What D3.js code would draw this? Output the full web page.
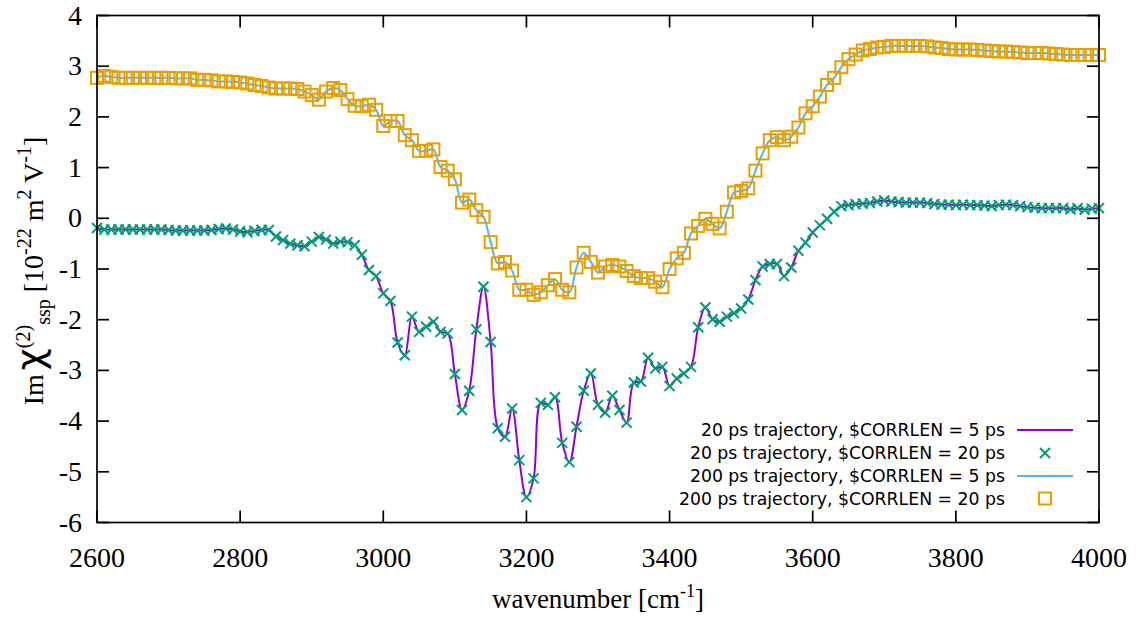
<!DOCTYPE html>
<html>
<head>
<meta charset="utf-8">
<script src="https://cdn.jsdelivr.net/npm/d3@7"></script>
<style>
  body { margin: 0; background: #fff; }
  svg { display: block; }
</style>
</head>
<body>
<svg></svg>
<script>
// wavenumber grid of the spectra, cm^-1
var wavenumbers = d3.range(2600, 4001, 10);

// 20 ps trajectory, $CORRLEN = 20 ps (green crosses)
var chi20 = [
  -0.19, -0.22, -0.22, -0.22, -0.22, -0.22, -0.22, -0.22, -0.22, -0.22,
  -0.23, -0.24, -0.24, -0.24, -0.24, -0.24, -0.23, -0.21, -0.20, -0.22,
  -0.26, -0.27, -0.25, -0.23, -0.23, -0.36, -0.43, -0.50, -0.53, -0.55,
  -0.46, -0.37, -0.42, -0.50, -0.46, -0.47, -0.53, -0.72, -1.02, -1.14,
  -1.48, -1.63, -2.45, -2.70, -1.94, -2.24, -2.14, -2.04, -2.24, -2.27,
  -3.07, -3.78, -3.40, -2.19, -1.35, -2.44, -4.14, -4.31, -3.75, -4.77,
  -5.50, -5.13, -3.64, -3.68, -3.53, -4.43, -4.81, -4.11, -3.40, -3.06,
  -3.68, -3.83, -3.50, -3.78, -4.03, -3.24, -3.22, -2.75, -2.96, -2.93,
  -3.31, -3.16, -3.06, -2.93, -2.15, -1.76, -1.99, -2.04, -1.94, -1.87,
  -1.78, -1.60, -1.22, -0.95, -0.90, -0.90, -1.14, -0.97, -0.64, -0.48,
  -0.28, -0.14, -0.01, 0.13, 0.24, 0.26, 0.28, 0.29, 0.30, 0.33,
  0.35, 0.33, 0.32, 0.31, 0.31, 0.31, 0.30, 0.28, 0.27, 0.27,
  0.26, 0.27, 0.26, 0.26, 0.25, 0.24, 0.26, 0.27, 0.26, 0.24,
  0.22, 0.21, 0.20, 0.20, 0.20, 0.20, 0.18, 0.20, 0.17, 0.19,
  0.20
];

// 200 ps trajectory, $CORRLEN = 20 ps (orange squares)
var chi200 = [
  2.77, 2.81, 2.79, 2.77, 2.77, 2.77, 2.77, 2.77, 2.77, 2.77,
  2.77, 2.76, 2.76, 2.76, 2.73, 2.73, 2.72, 2.70, 2.70, 2.69,
  2.68, 2.66, 2.63, 2.61, 2.58, 2.56, 2.56, 2.56, 2.55, 2.50,
  2.43, 2.34, 2.50, 2.57, 2.53, 2.35, 2.22, 2.21, 2.24, 2.14,
  1.82, 1.92, 1.92, 1.64, 1.54, 1.33, 1.33, 1.36, 1.01, 0.94,
  0.77, 0.31, 0.37, 0.16, 0.03, -0.47, -0.89, -0.86, -1.03, -1.41,
  -1.41, -1.51, -1.46, -1.32, -1.20, -1.41, -1.46, -0.97, -0.68, -0.86,
  -1.07, -0.95, -0.92, -0.95, -1.04, -1.14, -1.18, -1.18, -1.25, -1.36,
  -1.00, -0.79, -0.68, -0.30, -0.15, -0.01, -0.11, -0.20, 0.13, 0.51,
  0.54, 0.59, 0.94, 1.28, 1.54, 1.60, 1.54, 1.61, 1.79, 2.07,
  2.21, 2.40, 2.63, 2.77, 2.98, 3.14, 3.23, 3.31, 3.34, 3.37,
  3.38, 3.40, 3.40, 3.40, 3.40, 3.40, 3.39, 3.37, 3.36, 3.34,
  3.33, 3.33, 3.33, 3.32, 3.31, 3.30, 3.29, 3.29, 3.28, 3.27,
  3.26, 3.26, 3.26, 3.25, 3.24, 3.23, 3.22, 3.22, 3.22, 3.22,
  3.22
];

// the 5 ps curves lie on top of the 20 ps points at this scale
var chi20short = chi20;
var chi200short = chi200;

var legendLabels = [
  "20 ps trajectory, $CORRLEN = 5 ps",
  "20 ps trajectory, $CORRLEN = 20 ps",
  "200 ps trajectory, $CORRLEN = 5 ps",
  "200 ps trajectory, $CORRLEN = 20 ps"
];

var xTicks = d3.range(2600, 4001, 200);
var yTicks = d3.range(-6, 5, 1);

var width = 1143,
    height = 627;

// plot box edges (note: "top" is taken by window.top)
var boxL = 97, boxR = 1099, boxT = 15.5, boxB = 522.5;

var PURPLE = "#9400d3", GREEN = "#009e73", BLUE = "#56b4e9", ORANGE = "#e69f00";

var svg = d3.select("svg")
    .attr("width", width)
    .attr("height", height);

var x = d3.scaleLinear().domain([2600, 4000]).range([boxL, boxR]);
var y = d3.scaleLinear().domain([-6, 4]).range([boxB, boxT]);

function series(vals) {
  return vals.map(function (v, i) { return [wavenumbers[i], v]; });
}

var line = d3.line()
    .x(function (d) { return x(d[0]); })
    .y(function (d) { return y(d[1]); })
    .curve(d3.curveCatmullRom.alpha(0.5));

var plot = svg.append("g");

// 20 ps, 5 ps
plot.append("path")
    .datum(series(chi20short))
    .attr("d", line)
    .attr("fill", "none")
    .attr("stroke", PURPLE)
    .attr("stroke-width", 2);

// 20 ps, 20 ps  crosses
function crossPath(s) {
  return "M" + (-s) + "," + (-s) + "L" + s + "," + s + "M" + (-s) + "," + s + "L" + s + "," + (-s);
}
plot.selectAll("path.cross")
    .data(series(chi20))
  .enter().append("path")
    .attr("class", "cross")
    .attr("transform", function (d) { return "translate(" + x(d[0]) + "," + y(d[1]) + ")"; })
    .attr("d", crossPath(5))
    .attr("stroke", GREEN)
    .attr("stroke-width", 2)
    .attr("fill", "none");

// 200 ps, 5 ps
plot.append("path")
    .datum(series(chi200short))
    .attr("d", line)
    .attr("fill", "none")
    .attr("stroke", BLUE)
    .attr("stroke-width", 2);

// 200 ps, 20 ps  squares
plot.selectAll("rect.sq")
    .data(series(chi200))
  .enter().append("rect")
    .attr("class", "sq")
    .attr("x", function (d) { return x(d[0]) - 6; })
    .attr("y", function (d) { return y(d[1]) - 6; })
    .attr("width", 12)
    .attr("height", 12)
    .attr("fill", "none")
    .attr("stroke", ORANGE)
    .attr("stroke-width", 2);

// frame and ticks (mirrored on all sides)
var axes = svg.append("g").attr("stroke", "#000").attr("stroke-width", 1.7);
var TL = 12;
axes.selectAll("line.xb").data(xTicks).enter().append("line")
    .attr("x1", function (d) { return x(d); }).attr("x2", function (d) { return x(d); })
    .attr("y1", boxB).attr("y2", boxB - TL);
axes.selectAll("line.xt").data(xTicks).enter().append("line")
    .attr("x1", function (d) { return x(d); }).attr("x2", function (d) { return x(d); })
    .attr("y1", boxT).attr("y2", boxT + TL);
axes.selectAll("line.yl").data(yTicks).enter().append("line")
    .attr("y1", function (d) { return y(d); }).attr("y2", function (d) { return y(d); })
    .attr("x1", boxL).attr("x2", boxL + TL);
axes.selectAll("line.yr").data(yTicks).enter().append("line")
    .attr("y1", function (d) { return y(d); }).attr("y2", function (d) { return y(d); })
    .attr("x1", boxR).attr("x2", boxR - TL);
axes.append("rect")
    .attr("x", boxL).attr("y", boxT)
    .attr("width", boxR - boxL).attr("height", boxB - boxT)
    .attr("fill", "none");

var serif = "'Liberation Serif', 'Times New Roman', serif";

svg.selectAll("text.xt").data(xTicks).enter().append("text")
    .attr("x", function (d) { return x(d); })
    .attr("y", 567)
    .attr("text-anchor", "middle")
    .style("font-family", serif).style("font-size", "28px")
    .text(function (d) { return d; });

svg.selectAll("text.yt").data(yTicks).enter().append("text")
    .attr("x", 82)
    .attr("y", function (d) { return y(d) + 9; })
    .attr("text-anchor", "end")
    .style("font-family", serif).style("font-size", "28px")
    .text(function (d) { return d; });

// axis titles
var xt = svg.append("text")
    .attr("x", 598).attr("y", 608)
    .attr("text-anchor", "middle")
    .style("font-family", serif).style("font-size", "27px");
xt.append("tspan").text("wavenumber [cm");
xt.append("tspan").attr("dy", -11).style("font-size", "18px").text("-1");
xt.append("tspan").attr("dy", 11).text("]");

var yt = svg.append("text")
    .attr("transform", "translate(43,271) rotate(-90)")
    .attr("text-anchor", "middle")
    .style("font-family", serif).style("font-size", "28px");
yt.append("tspan").text("Im");
yt.append("tspan").attr("dx", 4).style("font-family", "'DejaVu Sans', sans-serif").style("font-size", "38px").text("χ");
yt.append("tspan").attr("dy", -13).style("font-size", "20px").text("(2)");
yt.append("tspan").attr("dy", 20).style("font-size", "20px").text("ssp");
yt.append("tspan").attr("dy", -7).text(" [10");
yt.append("tspan").attr("dy", -12).style("font-size", "20px").text("-22");
yt.append("tspan").attr("dy", 12).text(" m");
yt.append("tspan").attr("dy", -12).style("font-size", "20px").text("2");
yt.append("tspan").attr("dy", 12).text(" V");
yt.append("tspan").attr("dy", -12).style("font-size", "20px").text("-1");
yt.append("tspan").attr("dy", 12).text("]");

// legend
var legY = [430, 453, 476, 498.5];
var leg = svg.append("g");
leg.selectAll("text").data(legendLabels).enter().append("text")
    .attr("x", 1005)
    .attr("y", function (d, i) { return legY[i] + 6; })
    .attr("text-anchor", "end")
    .style("font-family", "'DejaVu Sans', sans-serif")
    .style("font-size", "17.3px")
    .attr("fill", "#000")
    .text(function (d) { return d; });

leg.append("line").attr("x1", 1017).attr("x2", 1073).attr("y1", legY[0]).attr("y2", legY[0])
    .attr("stroke", PURPLE).attr("stroke-width", 2);
leg.append("path").attr("transform", "translate(1045," + legY[1] + ")")
    .attr("d", crossPath(5)).attr("stroke", GREEN).attr("stroke-width", 2);
leg.append("line").attr("x1", 1017).attr("x2", 1073).attr("y1", legY[2]).attr("y2", legY[2])
    .attr("stroke", BLUE).attr("stroke-width", 2);
leg.append("rect").attr("x", 1039).attr("y", legY[3] - 6).attr("width", 12).attr("height", 12)
    .attr("fill", "none").attr("stroke", ORANGE).attr("stroke-width", 2);
</script>
</body>
</html>
